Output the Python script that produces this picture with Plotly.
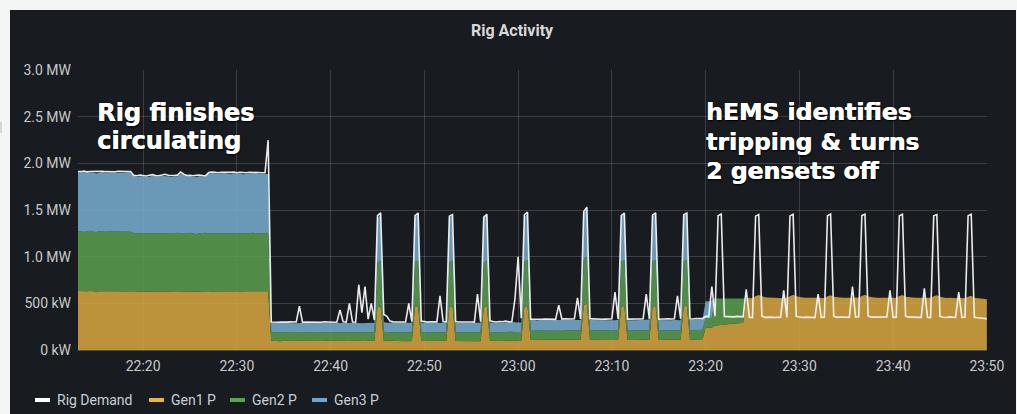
import pandas as pd
import plotly.graph_objects as go

# ---------------- data (kW), sampled every 20 s from 22:13:00 to 23:50:00 ----------------
times = pd.date_range("2023-01-01 22:13:00", "2023-01-01 23:50:00", freq="20s")

gen1_kw = [
    632, 630, 628, 631, 633, 629, 627, 630, 632, 628, 631, 629, 633, 630, 628,
    630, 627, 629, 631, 628, 626, 630, 628, 625, 627, 629, 631, 628, 626, 630,
    627, 629, 631, 628, 626, 629, 630, 627, 625, 628, 630, 632, 629, 627, 628,
    630, 628, 631, 627, 629, 632, 630, 628, 626, 629, 631, 630, 628, 627, 629,
    628, 629, 98, 96, 97, 95, 98, 96, 97, 95, 96, 98, 97, 95, 96,
    98, 95, 97, 96, 98, 97, 95, 96, 98, 97, 95, 96, 97, 98, 96,
    95, 97, 96, 98, 95, 97, 458, 470, 100, 97, 96, 98, 97, 95, 96,
    97, 95, 96, 462, 472, 98, 96, 97, 95, 96, 97, 95, 96, 98, 460,
    470, 97, 96, 98, 95, 97, 96, 98, 97, 95, 458, 468, 99, 97, 98,
    96, 97, 98, 97, 99, 98, 100, 99, 465, 472, 108, 110, 107, 109, 111,
    110, 108, 111, 109, 110, 108, 112, 110, 109, 111, 110, 108, 480, 495, 110,
    109, 111, 108, 110, 112, 109, 110, 108, 111, 465, 472, 110, 108, 111, 109,
    111, 109, 110, 112, 466, 472, 108, 110, 109, 111, 112, 110, 108, 111, 468,
    472, 110, 112, 111, 114, 115, 235, 238, 240, 262, 268, 270, 272, 275, 278,
    282, 285, 290, 292, 552, 560, 556, 578, 590, 575, 566, 562, 560, 558, 561,
    558, 556, 560, 578, 592, 575, 566, 562, 560, 558, 556, 560, 562, 558, 555,
    575, 588, 572, 565, 562, 560, 558, 561, 559, 562, 560, 580, 592, 574, 566,
    562, 560, 558, 561, 559, 562, 560, 558, 578, 590, 572, 566, 563, 561, 559,
    560, 558, 556, 559, 575, 588, 570, 562, 558, 560, 557, 559, 556, 558, 555,
    572, 582, 560, 555, 550, 547, 545,
]

gen2_kw = [
    642, 645, 638, 641, 646, 640, 637, 643, 645, 639, 641, 644, 638, 640, 643,
    641, 644, 638, 624, 620, 627, 622, 619, 625, 628, 621, 624, 620, 626, 623,
    619, 625, 627, 622, 620, 624, 626, 621, 618, 623, 627, 625, 620, 624, 628,
    622, 620, 624, 626, 621, 618, 623, 627, 625, 620, 624, 628, 626, 621, 624,
    630, 629, 92, 95, 94, 96, 93, 95, 94, 96, 95, 93, 96, 94, 95,
    93, 96, 95, 94, 93, 95, 96, 94, 95, 93, 96, 95, 94, 93, 95,
    94, 92, 95, 93, 96, 94, 480, 490, 96, 94, 95, 93, 94, 96, 95,
    93, 96, 95, 482, 488, 95, 94, 96, 93, 95, 94, 96, 95, 93, 482,
    487, 94, 95, 93, 96, 94, 95, 93, 94, 96, 480, 490, 95, 94, 96,
    95, 94, 96, 95, 97, 96, 94, 95, 484, 492, 98, 99, 97, 99, 98,
    98, 100, 97, 99, 101, 98, 100, 99, 98, 100, 99, 101, 495, 505, 99,
    99, 97, 100, 98, 99, 101, 98, 100, 99, 485, 490, 98, 100, 97, 99,
    98, 100, 99, 101, 486, 490, 101, 98, 100, 99, 97, 100, 99, 98, 484,
    492, 99, 98, 100, 99, 101, 105, 108, 106, 290, 284, 282, 280, 277, 274,
    270, 267, 262, 260, 0, 0, 0, 0, 0, 0, 0, 0, 0, 0, 0,
    0, 0, 0, 0, 0, 0, 0, 0, 0, 0, 0, 0, 0, 0, 0,
    0, 0, 0, 0, 0, 0, 0, 0, 0, 0, 0, 0, 0, 0, 0,
    0, 0, 0, 0, 0, 0, 0, 0, 0, 0, 0, 0, 0, 0, 0,
    0, 0, 0, 0, 0, 0, 0, 0, 0, 0, 0, 0, 0, 0, 0,
    0, 0, 0, 0, 0, 0, 0,
]

gen3_kw = [
    631, 627, 636, 630, 625, 635, 629, 628, 632, 630, 627, 631, 631, 628, 630,
    632, 629, 633, 610, 608, 607, 611, 608, 607, 612, 612, 604, 617, 616, 610,
    612, 605, 605, 640, 625, 607, 613, 608, 610, 614, 606, 609, 641, 648, 639,
    635, 644, 641, 636, 635, 643, 640, 638, 632, 639, 641, 636, 644, 640, 638,
    630, 630, 102, 98, 100, 99, 101, 98, 100, 97, 99, 101, 98, 100, 102,
    99, 100, 98, 101, 99, 100, 102, 98, 100, 99, 101, 99, 98, 100, 101,
    100, 98, 99, 101, 100, 98, 475, 495, 105, 100, 99, 101, 99, 100, 98,
    99, 100, 101, 478, 492, 101, 99, 98, 100, 99, 101, 98, 100, 99, 478,
    488, 100, 98, 101, 99, 100, 98, 101, 99, 100, 476, 488, 102, 100, 99,
    101, 99, 103, 102, 104, 101, 100, 102, 480, 498, 112, 114, 111, 113, 112,
    112, 110, 113, 111, 109, 112, 110, 113, 111, 112, 110, 113, 500, 515, 112,
    114, 112, 110, 113, 111, 114, 112, 110, 113, 480, 492, 112, 110, 113, 111,
    112, 114, 111, 113, 482, 494, 113, 112, 110, 113, 111, 112, 114, 110, 488,
    490, 113, 111, 112, 110, 113, 180, 178, 182, 0, 0, 0, 0, 0, 0,
    0, 0, 0, 0, 0, 0, 0, 0, 0, 0, 0, 0, 0, 0, 0,
    0, 0, 0, 0, 0, 0, 0, 0, 0, 0, 0, 0, 0, 0, 0,
    0, 0, 0, 0, 0, 0, 0, 0, 0, 0, 0, 0, 0, 0, 0,
    0, 0, 0, 0, 0, 0, 0, 0, 0, 0, 0, 0, 0, 0, 0,
    0, 0, 0, 0, 0, 0, 0, 0, 0, 0, 0, 0, 0, 0, 0,
    0, 0, 0, 0, 0, 0, 0,
]

rig_demand_kw = [
    1915, 1912, 1918, 1910, 1914, 1916, 1911, 1913, 1917, 1912, 1909, 1914, 1911, 1916, 1913,
    1915, 1912, 1914, 1872, 1868, 1875, 1870, 1866, 1874, 1880, 1871, 1869, 1876, 1884, 1873,
    1869, 1871, 1875, 1908, 1885, 1870, 1873, 1868, 1872, 1876, 1871, 1869, 1902, 1908, 1905,
    1900, 1906, 1903, 1899, 1904, 1907, 1901, 1905, 1902, 1900, 1906, 1903, 1908, 1904, 1901,
    1900, 2250, 300, 296, 298, 301, 297, 299, 302, 298, 300, 470, 297, 301, 299,
    302, 298, 300, 297, 303, 299, 301, 298, 300, 430, 302, 299, 500, 301, 298,
    700, 400, 680, 330, 500, 320, 1440, 1470, 380, 360, 310, 302, 300, 304, 299,
    301, 500, 305, 1440, 1468, 310, 301, 299, 303, 300, 302, 580, 304, 301, 1435,
    1452, 305, 300, 302, 298, 303, 301, 299, 600, 303, 1425, 1455, 312, 305, 300,
    306, 303, 310, 302, 305, 550, 1000, 340, 1450, 1478, 330, 332, 328, 334, 331,
    332, 330, 333, 329, 480, 331, 335, 330, 332, 334, 560, 333, 1485, 1530, 335,
    334, 330, 332, 329, 331, 333, 335, 620, 333, 1440, 1468, 331, 334, 330, 332,
    332, 335, 600, 333, 1445, 1470, 330, 333, 331, 335, 332, 334, 580, 336, 1450,
    1468, 335, 332, 338, 334, 336, 360, 358, 680, 362, 1440, 1458, 360, 358, 362,
    355, 360, 358, 356, 650, 352, 348, 1435, 1452, 365, 350, 355, 352, 348, 354,
    352, 640, 350, 1438, 1455, 360, 350, 348, 352, 355, 350, 348, 600, 350, 352,
    1440, 1458, 362, 350, 354, 352, 356, 350, 680, 352, 355, 1442, 1456, 365, 352,
    352, 348, 355, 350, 354, 640, 350, 352, 1440, 1455, 362, 352, 350, 354, 351,
    350, 660, 352, 348, 1438, 1452, 360, 352, 348, 355, 351, 349, 620, 350, 352,
    1440, 1455, 350, 345, 340, 338, 335,
]

series_names = ["Rig Demand", "Gen1 P", "Gen2 P", "Gen3 P"]
y_tick_vals = [0, 500, 1000, 1500, 2000, 2500, 3000]
y_tick_text = ["0 kW", "500 kW", "1.0 MW", "1.5 MW", "2.0 MW", "2.5 MW", "3.0 MW"]
x_tick_text = ["22:20", "22:30", "22:40", "22:50", "23:00", "23:10", "23:20", "23:30", "23:40", "23:50"]
x_tick_vals = [pd.Timestamp("2023-01-01 " + t) for t in x_tick_text]

for s in (gen1_kw, gen2_kw, gen3_kw, rig_demand_kw):
    assert len(s) == len(times), (len(s), len(times))

# ---------------- styling ----------------
W, H = 1017, 414
ML, MR, MT, MB = 78, 30, 70, 64
PW, PH = W - ML - MR, H - MT - MB
BG = "#181b1f"
PAGE = "#f4f5f5"
TXT = "#c8c9cc"

def px(x):
    return (x - ML) / PW

def py(y):
    return (H - MB - y) / PH

fills = {
    "Gen1 P": "rgba(215,166,64,0.86)",
    "Gen2 P": "rgba(90,158,79,0.86)",
    "Gen3 P": "rgba(120,174,209,0.86)",
}
icon_colors = {
    "Rig Demand": "#ffffff",
    "Gen1 P": "#EAB839",
    "Gen2 P": "#56A64B",
    "Gen3 P": "#6CA6D6",
}

fig = go.Figure()
for name, vals in (("Gen1 P", gen1_kw), ("Gen2 P", gen2_kw), ("Gen3 P", gen3_kw)):
    fig.add_trace(go.Scatter(
        x=times, y=vals, name=name, mode="lines", stackgroup="gens",
        line=dict(width=0), fillcolor=fills[name], showlegend=False,
    ))
fig.add_trace(go.Scatter(
    x=times, y=rig_demand_kw, name="Rig Demand", mode="lines",
    line=dict(color="rgba(245,245,245,0.95)", width=1.6), showlegend=False,
))

shapes = [
    dict(type="rect", xref="paper", yref="paper", x0=px(0), x1=px(W), y0=py(10), y1=py(0),
         fillcolor=PAGE, line=dict(width=0), layer="below"),
    dict(type="rect", xref="paper", yref="paper", x0=px(0), x1=px(10), y0=py(H), y1=py(0),
         fillcolor=PAGE, line=dict(width=0), layer="below"),
    dict(type="rect", xref="paper", yref="paper", x0=px(1016), x1=px(W), y0=py(H), y1=py(0),
         fillcolor=PAGE, line=dict(width=0), layer="below"),
    dict(type="rect", xref="paper", yref="paper", x0=px(0), x1=px(2), y0=py(133), y1=py(122),
         fillcolor="#d6d7d8", line=dict(width=0), layer="below"),
]

annotations = [
    dict(text="<b>Rig Activity</b>", x=px(512), y=py(30), xref="paper", yref="paper",
         xanchor="center", yanchor="middle", showarrow=False,
         font=dict(family="Roboto", size=16, color="#d8d9da")),
]

shadow = "0.6px 0 0 #fff, 0 0 1px #000, 1px 1px 2px #000"
big_font_l = dict(family="DejaVu Sans", size=24, color="#ffffff", shadow=shadow)
big_font_r = dict(family="DejaVu Sans", size=23.5, color="#ffffff", shadow=shadow)
for txt, xx, yy, f in (
    ("Rig finishes", 95, 113, big_font_l),
    ("circulating", 95, 141, big_font_l),
    ("hEMS identifies", 704, 112, big_font_r),
    ("tripping & turns", 704, 142, big_font_r),
    ("2 gensets off", 704, 171, big_font_r),
):
    annotations.append(dict(text="<b>" + txt + "</b>", x=px(xx), y=py(yy), xref="paper", yref="paper",
                            xanchor="left", yanchor="middle", showarrow=False, font=f))

# manual Grafana-like legend
legend_pos = {"Rig Demand": 34, "Gen1 P": 148, "Gen2 P": 229, "Gen3 P": 311}
for name in series_names:
    x0 = legend_pos[name]
    shapes.append(dict(type="line", xref="paper", yref="paper", x0=px(x0 + 1), x1=px(x0 + 16),
                       y0=py(400), y1=py(400), line=dict(color=icon_colors[name], width=4)))
    annotations.append(dict(text=name, x=px(x0 + 21), y=py(400), xref="paper", yref="paper",
                            xanchor="left", yanchor="middle", showarrow=False,
                            font=dict(family="Roboto", size=14, color="#c7d0d9")))

grid = "rgba(204,204,220,0.2)"
fig.update_layout(
    width=W, height=H,
    margin=dict(l=ML, r=MR, t=MT, b=MB, pad=0),
    paper_bgcolor=BG, plot_bgcolor=BG,
    showlegend=False,
    shapes=shapes, annotations=annotations,
    xaxis=dict(
        type="date", range=["2023-01-01 22:13:03", "2023-01-01 23:50:01"],
        tickvals=x_tick_vals, ticktext=x_tick_text,
        showgrid=True, gridcolor=grid, gridwidth=1,
        zeroline=False, showline=False, ticks="",
        tickfont=dict(family="Roboto", size=14, color=TXT),
        ticklabelstandoff=6,
    ),
    yaxis=dict(
        range=[0, 3002], tickvals=y_tick_vals, ticktext=y_tick_text,
        showgrid=True, gridcolor=grid, gridwidth=1,
        zeroline=True, zerolinecolor="rgba(204,204,220,0.3)", zerolinewidth=1,
        showline=False, ticks="",
        tickfont=dict(family="Roboto", size=14, color=TXT),
        ticklabelstandoff=6,
    ),
)

fig.write_html("out.html", config={"displayModeBar": False},
               post_script="document.body.style.margin='0';document.body.style.overflow='hidden';")
